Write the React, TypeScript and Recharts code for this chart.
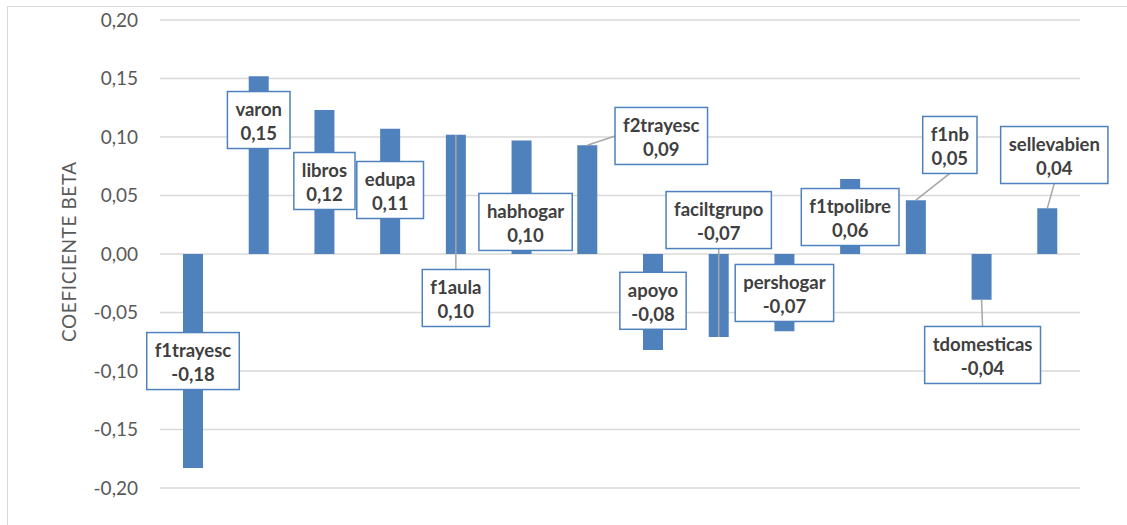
import React from 'react';
import { BarChart, Bar, XAxis, YAxis, CartesianGrid, LabelList } from 'recharts';

const variables = [
  'f1trayesc', 'varon', 'libros', 'edupa', 'f1aula', 'habhogar', 'f2trayesc',
  'apoyo', 'faciltgrupo', 'pershogar', 'f1tpolibre', 'f1nb', 'tdomesticas', 'sellevabien',
];
const betas = [
  -0.183, 0.152, 0.123, 0.107, 0.102, 0.097, 0.093,
  -0.082, -0.071, -0.066, 0.064, 0.046, -0.039, 0.039,
];
const yTicks = [-0.2, -0.15, -0.1, -0.05, 0, 0.05, 0.1, 0.15, 0.2];

// where each callout box sits: horizontal shift (px) from the bar, centre height in axis units,
// and which side of the box a leader line attaches to
const calloutShift = [0, 0, 0, 0, 0, 4, 74, 0, 0, 0, 0, 34, 1, 7];
const calloutLevel = [-0.0915, 0.1145, 0.0624, 0.0547, -0.0376, 0.0274, 0.1009, -0.04, 0.029, -0.0333, 0.0316, 0.0932, -0.0863, 0.0846];
const calloutLeader = ['', '', '', '', 'top', '', 'left', '', 'bottom', '', '', 'bottom', 'top', 'bottom'];

const data = variables.map((name, i) => ({ name, beta: betas[i] }));

const BLUE = '#4F81BD';
const FONT = 'Lato, "Liberation Sans", sans-serif';
const LABEL_SIZE = 18.5;
const fmt = (v: number) => v.toFixed(2).replace('.', ',');

let ctx: CanvasRenderingContext2D | null = null;
const textWidth = (s: string) => {
  if (!ctx) ctx = document.createElement('canvas').getContext('2d');
  if (!ctx) return s.length * 9.5;
  ctx.font = `bold ${LABEL_SIZE}px ${FONT}`;
  return ctx.measureText(s).width;
};

const Callout = (props: any) => {
  const { x, y, width, height, value } = props;
  const i = variables.indexOf(value);
  if (i < 0) return null;
  const v = betas[i];
  const top = Math.min(y, y + height);
  const bottom = Math.max(y, y + height);
  const zero = v > 0 ? bottom : top;
  const pxPerUnit = (bottom - top) / Math.abs(v);
  const barX = x + width / 2;
  const barEnd = v > 0 ? top : bottom;
  const cx = barX + calloutShift[i];
  const cy = zero - calloutLevel[i] * pxPerUnit;
  const label = fmt(v);
  const w = Math.max(textWidth(value), textWidth(label)) + 16;
  const h = 57;
  let leader = null;
  const side = calloutLeader[i];
  if (side) {
    let ax = cx;
    let ay = cy;
    if (side === 'top') ay = cy - h / 2;
    if (side === 'bottom') ay = cy + h / 2;
    if (side === 'left') ax = cx - w / 2;
    leader = <line x1={barX} y1={barEnd} x2={ax} y2={ay} stroke="#A6A6A6" strokeWidth={1.5} />;
  }
  return (
    <g>
      {leader}
      <rect x={cx - w / 2} y={cy - h / 2} width={w} height={h} fill="#fff" stroke={BLUE} strokeWidth={1.5} />
      <text x={cx} y={cy - 11} textAnchor="middle" dominantBaseline="central" fontFamily={FONT} fontWeight="bold" fontSize={LABEL_SIZE} fill="#404040">
        {value}
      </text>
      <text x={cx} y={cy + 13} textAnchor="middle" dominantBaseline="central" fontFamily={FONT} fontWeight="bold" fontSize={LABEL_SIZE} fill="#404040">
        {label}
      </text>
    </g>
  );
};

export default function App() {
  return (
    <div style={{ position: 'absolute', left: 0, top: 0, width: 1127, height: 525, background: '#fff' }}>
      <div style={{ position: 'absolute', left: 7, top: 6, right: 0, bottom: 0, borderTop: '1.5px solid #D9D9D9', borderLeft: '1.5px solid #D9D9D9' }} />
      <BarChart width={1127} height={525} data={data} margin={{ top: 20, right: 47, bottom: 37, left: 0 }}>
        <CartesianGrid vertical={false} stroke="#D9D9D9" strokeWidth={1.5} />
        <XAxis dataKey="name" hide />
        <YAxis
          width={160}
          domain={[-0.2, 0.2]}
          ticks={yTicks}
          tickFormatter={fmt}
          axisLine={false}
          tickLine={false}
          tickSize={6}
          tickMargin={16}
          tick={{ fontSize: 19, fill: '#595959', fontFamily: FONT }}
          label={{ value: 'COEFICIENTE BETA', angle: -90, position: 'insideLeft', dx: 64, dy: 88, style: { fontSize: 19, fill: '#595959', fontFamily: FONT, letterSpacing: 0.6 } }}
        />
        <Bar dataKey="beta" fill={BLUE} barSize={20} isAnimationActive={false}>
          <LabelList dataKey="name" content={Callout} />
        </Bar>
      </BarChart>
    </div>
  );
}
